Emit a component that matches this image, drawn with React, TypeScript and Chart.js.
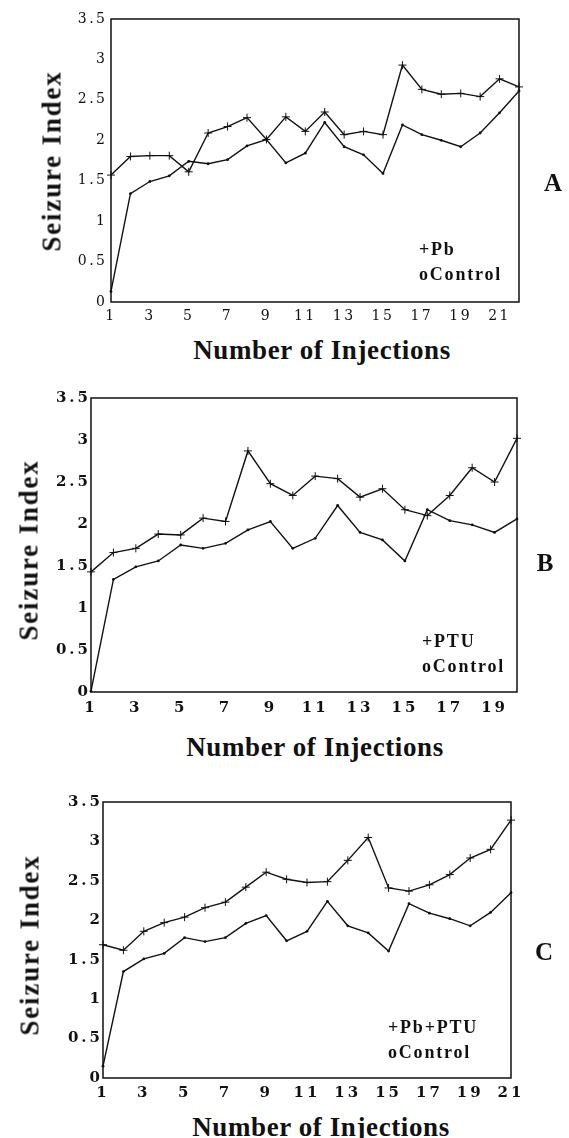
import React, { useEffect, useRef } from "react";
import { Chart, registerables } from "chart.js";

Chart.register(...registerables);

// ---------- Data ----------
const injectionsA = ["1","2","3","4","5","6","7","8","9","10","11","12","13","14","15","16","17","18","19","20","21","22"];
const pbA = [1.57, 1.80, 1.81, 1.81, 1.61, 2.09, 2.17, 2.28, 2.01, 2.29, 2.11, 2.35, 2.07, 2.11, 2.07, 2.93, 2.63, 2.57, 2.58, 2.54, 2.76, 2.66];
const controlA = [0.13, 1.34, 1.49, 1.56, 1.74, 1.71, 1.76, 1.93, 2.01, 1.72, 1.84, 2.22, 1.92, 1.82, 1.59, 2.19, 2.07, 2.00, 1.92, 2.09, 2.34, 2.61];

const injectionsB = ["1","2","3","4","5","6","7","8","9","10","11","12","13","14","15","16","17","18","19","20"];
const ptuB = [1.43, 1.66, 1.71, 1.88, 1.87, 2.07, 2.03, 2.87, 2.48, 2.34, 2.57, 2.54, 2.32, 2.42, 2.17, 2.10, 2.34, 2.67, 2.50, 3.02];
const controlB = [0.01, 1.34, 1.49, 1.56, 1.75, 1.71, 1.77, 1.93, 2.03, 1.71, 1.83, 2.22, 1.90, 1.81, 1.56, 2.17, 2.04, 1.99, 1.90, 2.06];

const injectionsC = ["1","2","3","4","5","6","7","8","9","10","11","12","13","14","15","16","17","18","19","20","21"];
const pbPtuC = [1.69, 1.62, 1.86, 1.97, 2.04, 2.16, 2.23, 2.42, 2.61, 2.52, 2.48, 2.49, 2.76, 3.05, 2.41, 2.37, 2.45, 2.58, 2.79, 2.90, 3.27];
const controlC = [0.15, 1.35, 1.51, 1.58, 1.78, 1.73, 1.78, 1.96, 2.06, 1.74, 1.86, 2.24, 1.93, 1.84, 1.61, 2.21, 2.09, 2.02, 1.93, 2.10, 2.35];

const yMin = 0;
const yMax = 3.5;
const yStep = 0.5;

const xTitle = "Number of Injections";
const yTitle = "Seizure Index";
const controlLabel = "oControl";

// ---------- Layout ----------
type Panel = {
  key: string;
  labels: string[];
  treated: number[];
  control: number[];
  treatedLabel: string;
  letter: string;
  canvasTop: number;
  canvasHeight: number;
  plotLeft: number;
  plotRight: number;
  plotTop: number; // relative to canvas
  xAxisHeight: number;
  tickBold: boolean;
  tickSize: number;
  tickSpacing: number;
  yTickPad: number;
  xTickPad: number;
  yTitlePos: [number, number];
  xTitlePos: [number, number];
  letterPos: [number, number];
  legendPos: [number, number];
};

const panels: Panel[] = [
  {
    key: "A", labels: injectionsA, treated: pbA, control: controlA, treatedLabel: "+Pb", letter: "A",
    canvasTop: 0, canvasHeight: 330, plotLeft: 111, plotRight: 519, plotTop: 19, xAxisHeight: 28,
    tickBold: false, tickSize: 14, tickSpacing: 2.5, yTickPad: 3.5, xTickPad: 6,
    yTitlePos: [52, 161], xTitlePos: [322, 350], letterPos: [553, 183], legendPos: [419, 237],
  },
  {
    key: "B", labels: injectionsB, treated: ptuB, control: controlB, treatedLabel: "+PTU", letter: "B",
    canvasTop: 370, canvasHeight: 350, plotLeft: 91, plotRight: 517, plotTop: 28, xAxisHeight: 28,
    tickBold: true, tickSize: 15, tickSpacing: 3, yTickPad: 0, xTickPad: 7,
    yTitlePos: [29, 550], xTitlePos: [315, 747], letterPos: [545, 563], legendPos: [422, 629],
  },
  {
    key: "C", labels: injectionsC, treated: pbPtuC, control: controlC, treatedLabel: "+Pb+PTU", letter: "C",
    canvasTop: 780, canvasHeight: 326, plotLeft: 103, plotRight: 511, plotTop: 22, xAxisHeight: 28,
    tickBold: true, tickSize: 15, tickSpacing: 3, yTickPad: 0, xTickPad: 6,
    yTitlePos: [30, 945], xTitlePos: [321, 1127], letterPos: [544, 952], legendPos: [388, 1015],
  },
];

const PAGE_W = 569;

function makeFramePlugin(spacing: number) {
  return {
    id: "frame",
    beforeDraw(chart: any) {
      chart.ctx.letterSpacing = spacing + "px";
    },
    afterDatasetsDraw(chart: any) {
      const { ctx, chartArea } = chart;
      const { left, top, right, bottom } = chartArea;
      ctx.save();
      ctx.letterSpacing = "0px";
      ctx.strokeStyle = "#111";
      ctx.lineWidth = 1.5;
      ctx.strokeRect(left, top, right - left, bottom - top);
      ctx.restore();
    },
  };
}

function PanelChart({ p }: { p: Panel }) {
  const ref = useRef<HTMLCanvasElement | null>(null);
  useEffect(() => {
    if (!ref.current) return;
    const tickFont = { family: "'DejaVu Serif', serif", size: p.tickSize, weight: p.tickBold ? "bold" : "normal" } as any;
    const chart = new Chart(ref.current, {
      type: "line",
      data: {
        labels: p.labels,
        datasets: [
          {
            label: p.treatedLabel,
            data: p.treated,
            borderColor: "#111",
            backgroundColor: "#111",
            borderWidth: 1.4,
            pointStyle: "cross",
            pointRadius: 4,
            pointBorderWidth: 1,
            tension: 0,
            clip: false,
          } as any,
          {
            label: controlLabel,
            data: p.control,
            borderColor: "#111",
            backgroundColor: "#111",
            borderWidth: 1.4,
            pointStyle: "circle",
            pointRadius: 1.4,
            pointBorderWidth: 0,
            tension: 0,
            clip: false,
          } as any,
        ],
      },
      options: {
        responsive: false,
        animation: false,
        layout: { padding: { top: p.plotTop, right: PAGE_W - p.plotRight, bottom: 0, left: 0 } },
        plugins: { legend: { display: false }, tooltip: { enabled: false } },
        scales: {
          x: {
            type: "category",
            offset: false,
            grid: { display: false, drawTicks: false },
            border: { display: false },
            ticks: {
              autoSkip: false,
              maxRotation: 0,
              minRotation: 0,
              padding: p.xTickPad,
              color: "#111",
              font: tickFont,
              callback: (_v: any, i: number) => (i % 2 === 0 ? p.labels[i] : ""),
            },
            afterFit: (s: any) => { s.height = p.xAxisHeight; },
          },
          y: {
            min: yMin,
            max: yMax,
            grid: { display: false, drawTicks: false },
            border: { display: false },
            ticks: {
              stepSize: yStep,
              padding: p.yTickPad,
              color: "#111",
              font: tickFont,
              callback: (v: any) => String(Number(v)),
            },
            afterFit: (s: any) => { s.width = p.plotLeft; },
          },
        },
      } as any,
      plugins: [makeFramePlugin(p.tickSpacing)],
    });
    return () => chart.destroy();
  }, [p]);

  const serifBold: React.CSSProperties = {
    position: "absolute",
    fontFamily: "'Liberation Serif', 'Times New Roman', serif",
    fontWeight: "bold",
    color: "#111",
    whiteSpace: "nowrap",
  };

  return (
    <>
      <canvas
        ref={ref}
        width={PAGE_W}
        height={p.canvasHeight}
        style={{ position: "absolute", left: 0, top: p.canvasTop, width: PAGE_W, height: p.canvasHeight }}
      />
      <div
        style={{
          ...serifBold,
          left: p.yTitlePos[0],
          top: p.yTitlePos[1],
          fontSize: 27,
          letterSpacing: "1.8px",
          transform: "translate(-50%, -50%) rotate(-90deg)",
        }}
      >
        {yTitle}
      </div>
      <div
        style={{
          ...serifBold,
          left: p.xTitlePos[0],
          top: p.xTitlePos[1],
          fontSize: 27,
          letterSpacing: "0.6px",
          transform: "translate(-50%, -50%)",
        }}
      >
        {xTitle}
      </div>
      <div
        style={{
          ...serifBold,
          left: p.letterPos[0],
          top: p.letterPos[1],
          fontSize: 25,
          transform: "translate(-50%, -50%)",
        }}
      >
        {p.letter}
      </div>
      <div
        style={{
          ...serifBold,
          left: p.legendPos[0],
          top: p.legendPos[1],
          fontSize: 18,
          lineHeight: "25px",
          letterSpacing: "1.8px",
        }}
      >
        <div>{p.treatedLabel}</div>
        <div>{controlLabel}</div>
      </div>
    </>
  );
}

export default function App() {
  useEffect(() => {
    document.body.style.margin = "0";
    document.body.style.background = "#fff";
  }, []);
  return (
    <div style={{ position: "relative", width: PAGE_W, height: 1138, overflow: "hidden", background: "#fff" }}>
      {panels.map((p) => (
        <PanelChart key={p.key} p={p} />
      ))}
    </div>
  );
}
